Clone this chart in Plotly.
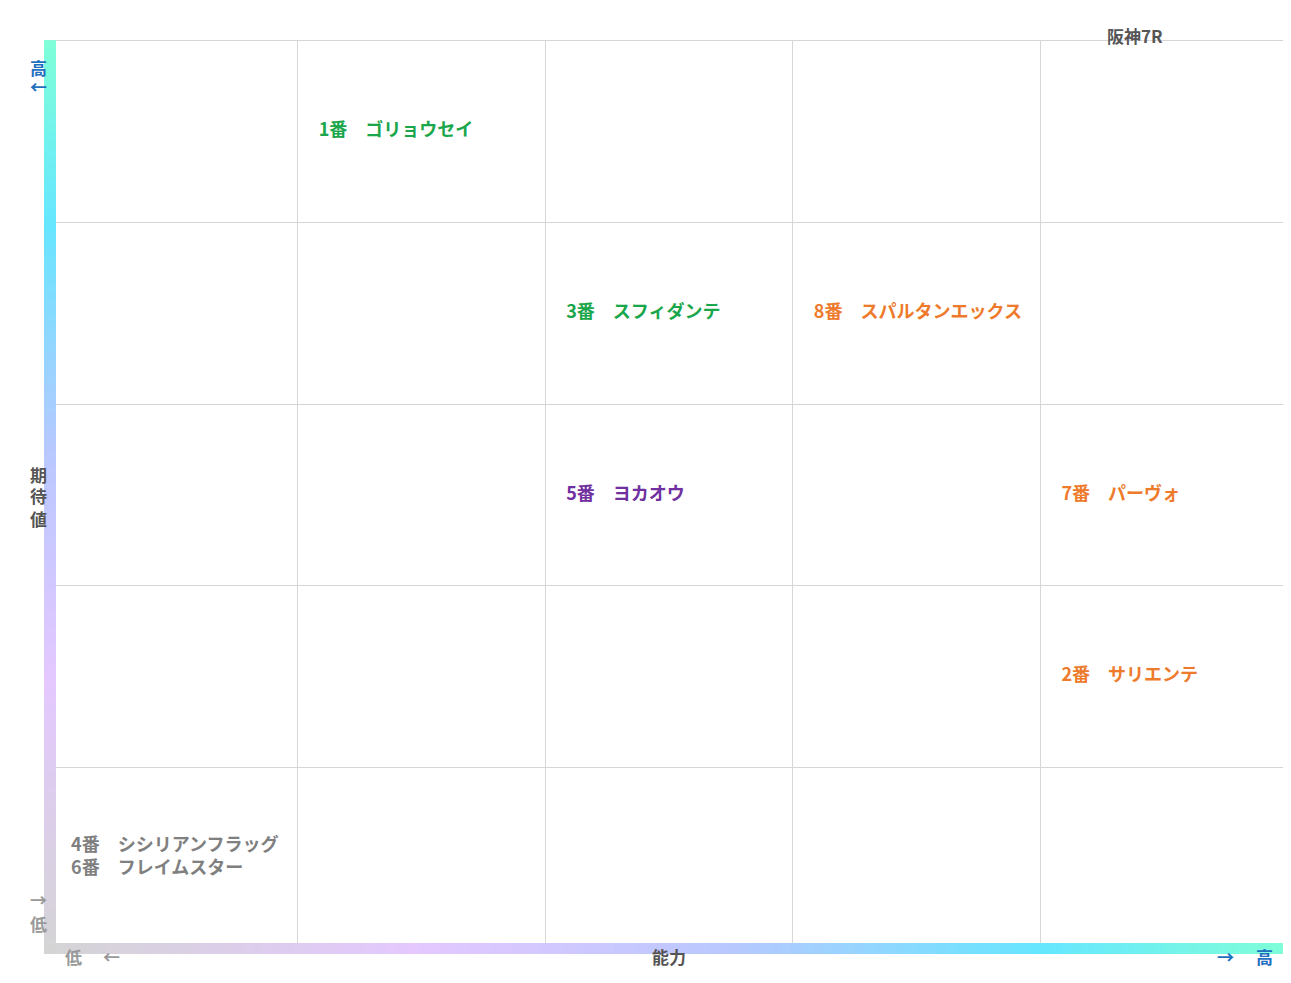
import plotly.graph_objects as go

title = "阪神7R"
x_label = "能力"
y_label = "期待値"
labels = ["1番　ゴリョウセイ", "3番　スフィダンテ", "8番　スパルタンエックス", "5番　ヨカオウ",
          "7番　パーヴォ", "2番　サリエンテ", "4番　シシリアンフラッグ<br>6番　フレイムスター"]
ability = [1, 2, 3, 2, 4, 4, 0]      # column index (low -> high)
expect = [4, 3, 3, 2, 2, 1, 0]       # row index (low -> high)
colors = ["#1aa64a", "#1aa64a", "#ee7a2c", "#7030a0", "#ee7a2c", "#ee7a2c", "#7f7f7f"]

FONT = "Noto Sans CJK JP"
W, H = 1291, 983
L, R, T, B = 42, 11, 33, 42
pw, ph = W - L - R, H - T - B

fig = go.Figure()
fig.add_trace(go.Scatter(
    x=[a + 0.085 for a in ability], y=[e + 0.5 for e in expect], mode="text",
    text=[f"<b>{t}</b>" for t in labels], textposition="middle right",
    textfont=dict(family=FONT, size=18, color=colors), hoverinfo="skip"))

def hexrgb(h):
    h = h.lstrip("#"); return [int(h[i:i+2], 16) for i in (0, 2, 4)]

def lerp(stops, t):
    for i in range(len(stops) - 1):
        p0, c0 = stops[i]; p1, c1 = stops[i + 1]
        if t <= p1:
            f = (t - p0) / (p1 - p0) if p1 > p0 else 0
            a, b = hexrgb(c0), hexrgb(c1)
            return "rgb(%d,%d,%d)" % tuple(round(a[k] + (b[k] - a[k]) * f) for k in range(3))
    return stops[-1][1]

stops = [(0, "#d4d4d4"), (0.3, "#e4c8ff"), (0.55, "#b8c8ff"), (0.8, "#66e6ff"), (1, "#80ffd8")]
shapes = []
N = 120
for i in range(N):
    t0, t1 = i / N, (i + 1) / N
    c = lerp(stops, (t0 + t1) / 2)
    shapes.append(dict(type="rect", xref="paper", yref="paper", x0=-6 / pw, x1=6 / pw,
                       y0=-5 / ph + t0 * (1 + 5 / ph), y1=-5 / ph + t1 * (1 + 5 / ph) + 0.001,
                       fillcolor=c, line=dict(width=0), layer="above"))
    shapes.append(dict(type="rect", xref="paper", yref="paper", y0=-5 / ph, y1=6 / ph,
                       x0=-6 / pw + t0 * (1 + 8 / pw), x1=-6 / pw + t1 * (1 + 8 / pw) + 0.001,
                       fillcolor=c, line=dict(width=0), layer="above"))

ann = []
def txtp(px, py, s, color="#666666", size=17):
    ann.append(dict(x=(px - L) / pw, y=(H - B - py) / ph, xref="paper", yref="paper",
                    text=f"<b>{s}</b>", showarrow=False,
                    font=dict(family=FONT, size=size, color=color)))

blue = "#1f6fbf"
txtp(1157, 13, title, "#555555")
txtp(661, 963, x_label, "#555555")
for i, ch in enumerate(y_label):
    txtp(20, 466 + 22 * i, ch, "#555555")
txtp(20, 45, "高", blue)
txtp(20, 64, "←", blue)
txtp(20, 906, "→", "#999999")
txtp(20, 930, "低", "#999999")
txtp(55, 963, "低", "#999999")
txtp(93, 963, "←", "#999999")
txtp(1228, 963, "→", blue)
txtp(1267, 963, "高", blue)

fig.update_layout(
    width=W, height=H, margin=dict(l=L, r=R, t=T, b=B, autoexpand=False),
    plot_bgcolor="white", paper_bgcolor="white", showlegend=False,
    shapes=shapes, annotations=ann,
    xaxis=dict(range=[0, 5], dtick=1, tick0=0, showticklabels=False, showgrid=True,
               gridcolor="#d6d6d6", zeroline=False, showline=True, mirror=True,
               linecolor="#d6d6d6", fixedrange=True),
    yaxis=dict(range=[0, 5], dtick=1, tick0=0, showticklabels=False, showgrid=True,
               gridcolor="#d6d6d6", zeroline=False, showline=True, mirror=True,
               linecolor="#d6d6d6", fixedrange=True),
)
fig.write_html("out.html")
